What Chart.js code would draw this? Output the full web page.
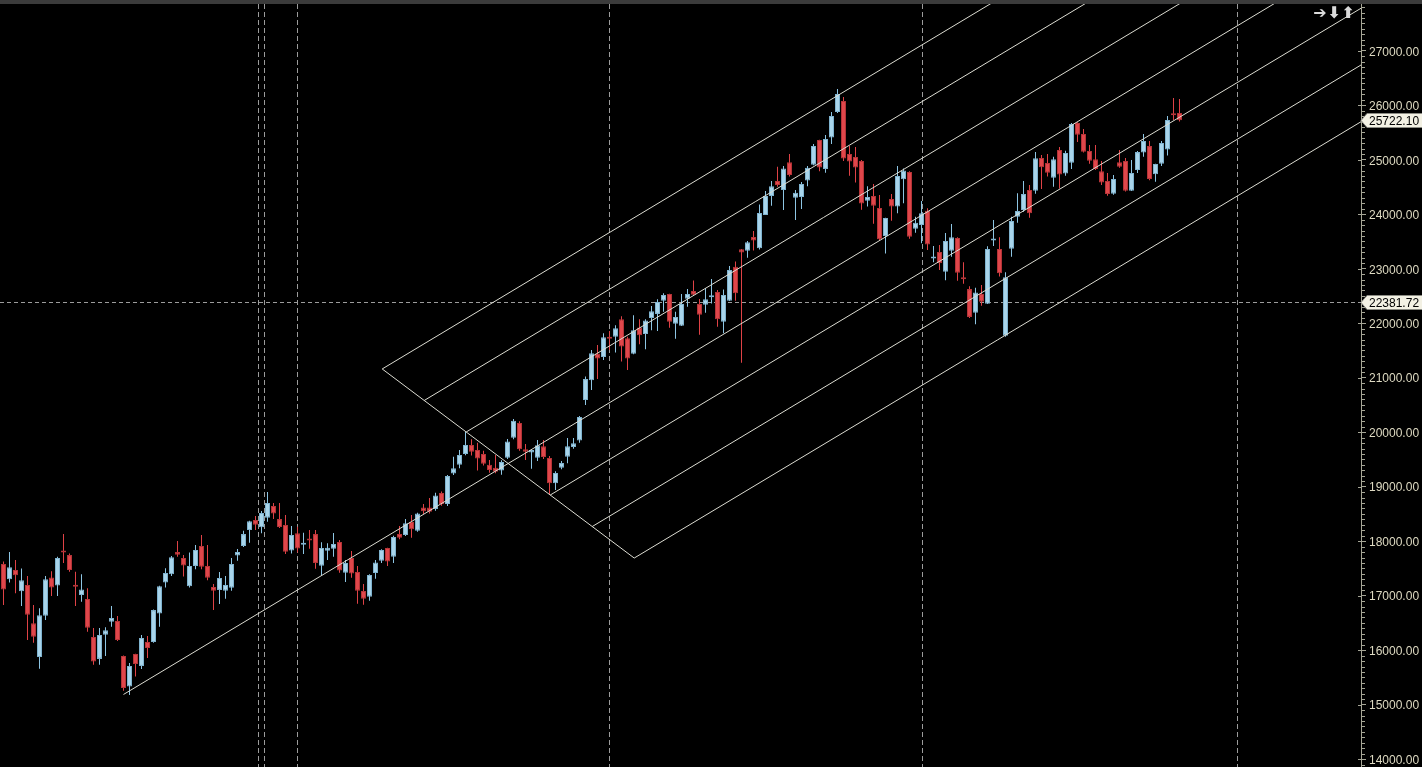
<!DOCTYPE html>
<html>
<head>
<meta charset="utf-8">
<script src="https://cdn.jsdelivr.net/npm/chart.js@4.4.1/dist/chart.umd.min.js"></script>
<style>
  html, body { margin: 0; padding: 0; background: #000; overflow: hidden; }
  #topbar { position: absolute; left: 0; top: 0; width: 1422px; height: 4px; background: #3b3b3b; }
  #wrap { position: absolute; left: 0; top: 4px; width: 1422px; height: 763px; }
</style>
</head>
<body>
<div id="topbar"></div>
<div id="wrap"><canvas id="chart" width="1422" height="763"></canvas></div>
<script>
/* ---------------- data ---------------- */
const opens = [
  17580, 17300, 17470, 17080, 17195, 16495, 15875, 16630, 17335, 17185,
  17820, 17745, 17190, 17010, 16940, 16240, 15840, 16285, 16520, 16535,
  15895, 15335, 15930, 15710, 16150, 16150, 16675, 17240, 17395, 17800,
  17690, 17175, 17545, 17910, 17545, 17160, 17105, 17090, 17145, 17735,
  17910, 18205, 18390, 18255, 18430, 18645, 18405, 18295, 17830, 18145,
  17935, 18040, 18130, 17550, 17825, 17860, 17985, 17420, 17690, 17435,
  17085, 16980, 17415, 17640, 17875, 17715, 18130, 18115, 18350, 18190,
  18620, 18620, 18590, 18885, 18680, 19240, 19400, 19600, 19765, 19675,
  19600, 19400, 19345, 19295, 19530, 19900, 20170, 19685, 19625, 19530,
  19740, 19525, 19065, 19345, 19550, 19730, 19845, 20590, 20955, 21445,
  21380, 21740, 21750, 22070, 21725, 21440, 21920, 21800, 22095, 22170,
  22410, 22535, 21990, 21955, 22450, 22590, 22350, 22340, 22475, 22570,
  22025, 22410, 23035, 23355, 23330, 23580, 23375, 23985, 24335, 24610,
  24445, 24955, 24300, 24315, 24620, 24905, 25360, 24830, 25405, 25875,
  26075, 25105, 25050, 24975, 24245, 24335, 24115, 23600, 24280, 24140,
  24640, 24775, 23735, 23800, 24065, 23185, 23305, 22945, 23330, 23565,
  22835, 22625, 22190, 22535, 22355, 23515, 23360, 21770, 23365, 23955,
  24075, 24445, 24430, 25030, 24940, 24670, 25180, 24745, 24945, 25675,
  25470, 25160, 25010, 24790, 24610, 24375, 24955, 24975, 24430, 24810,
  25130, 25250, 24735, 24925, 25185, 25840, 25855
];
const highs = [
  17625, 17800, 17655, 17500, 17360, 16830, 16770, 17360, 17450, 17715,
  18130, 17775, 17440, 17395, 17135, 16405, 16405, 16420, 16810, 16625,
  15900, 15765, 15935, 16280, 16260, 16745, 17180, 17505, 17730, 18005,
  17745, 17790, 17930, 18115, 17930, 17215, 17435, 17360, 17690, 17855,
  18190, 18375, 18460, 18555, 18900, 18700, 18700, 18480, 18280, 18265,
  18155, 18205, 18205, 17980, 17960, 18150, 18020, 17655, 17820, 17545,
  17215, 17395, 17655, 17850, 17880, 18100, 18280, 18405, 18480, 18520,
  18680, 18790, 18890, 18910, 19215, 19550, 19675, 20005, 19870, 19805,
  19660, 19490, 19580, 19485, 19875, 20240, 20200, 19785, 19685, 19855,
  19855, 19565, 19285, 19470, 19895, 19895, 20295, 21020, 21510, 21600,
  21815, 21855, 21960, 22125, 21750, 22145, 22070, 22070, 22315, 22440,
  22550, 22540, 22210, 22535, 22625, 22785, 22445, 22645, 22810, 22610,
  22620, 23050, 23130, 23360, 23510, 23690, 24180, 24425, 24610, 24870,
  24885, 25105, 24445, 24590, 24885, 25290, 25365, 25455, 25875, 26295,
  26150, 25250, 25235, 24995, 24515, 24555, 24350, 23935, 24370, 24885,
  24840, 24790, 23955, 24240, 24110, 23415, 23435, 23655, 23820, 23575,
  23120, 22680, 22650, 22700, 23410, 23895, 23575, 22935, 23955, 24385,
  24610, 24535, 25140, 25085, 25105, 25055, 25235, 25165, 25675, 25685,
  25565, 25270, 25270, 24975, 24755, 24720, 25180, 25030, 24995, 25160,
  25470, 25345, 24925, 25345, 25800, 26130, 26115
];
const lows = [
  16830, 17240, 17045, 16810, 16185, 16135, 15660, 16555, 16995, 16995,
  17600, 17440, 16810, 16890, 16340, 15730, 15730, 15895, 16430, 16170,
  15255, 15175, 15515, 15655, 15855, 16135, 16430, 17150, 17360, 17715,
  17350, 17150, 17485, 17485, 17285, 16735, 16845, 16945, 17090, 17640,
  17895, 17970, 18205, 18145, 18355, 18405, 18240, 17765, 17775, 17790,
  17765, 17860, 17495, 17365, 17655, 17715, 17420, 17250, 17330, 16850,
  16835, 16905, 17310, 17600, 17545, 17600, 18035, 18095, 18065, 18175,
  18500, 18510, 18560, 18650, 18645, 19215, 19340, 19575, 19570, 19295,
  19390, 19255, 19245, 19220, 19510, 19870, 19660, 19490, 19330, 19470,
  19510, 18855, 18940, 19320, 19430, 19695, 19805, 20500, 20775, 20975,
  21325, 21510, 21460, 21295, 21140, 21430, 21615, 21520, 21870, 21855,
  22210, 21915, 21715, 21950, 22300, 22515, 21790, 22190, 22360, 21935,
  21815, 22405, 22410, 21275, 23200, 23335, 23350, 23985, 24155, 24505,
  24075, 24690, 23895, 24095, 24515, 24900, 24790, 24760, 25290, 25855,
  24975, 24705, 24580, 24080, 24140, 23825, 23515, 23280, 23880, 24015,
  24200, 23550, 23660, 23465, 23345, 23120, 22975, 22790, 23220, 22780,
  22725, 22095, 21980, 22320, 22350, 23415, 22855, 21750, 23220, 23845,
  24045, 23935, 24375, 24460, 24690, 24505, 24470, 24705, 24830, 25325,
  25130, 24925, 24810, 24535, 24340, 24355, 24850, 24415, 24425, 24755,
  25055, 24625, 24595, 24885, 25075, 25730, 25700
];
const closes = [
  17115, 17520, 17375, 17285, 16650, 16245, 16640, 17300, 17150, 17690,
  17790, 17470, 17165, 17115, 16410, 15790, 16280, 16365, 16590, 16185,
  15305, 15710, 15745, 16225, 16040, 16735, 17175, 17415, 17705, 17750,
  17555, 17545, 17840, 17530, 17330, 17090, 17325, 17195, 17580, 17800,
  18130, 18365, 18300, 18515, 18700, 18510, 18260, 17805, 18115, 17865,
  17965, 18010, 17600, 17875, 17880, 17950, 17460, 17600, 17405, 17090,
  16945, 17380, 17610, 17840, 17625, 18075, 18065, 18330, 18220, 18510,
  18550, 18540, 18840, 18680, 19195, 19340, 19580, 19765, 19640, 19515,
  19420, 19305, 19275, 19455, 19830, 20210, 19685, 19640, 19675, 19760,
  19545, 19065, 19250, 19435, 19740, 19795, 20280, 20975, 21450, 21350,
  21740, 21715, 21905, 21570, 21350, 21870, 21780, 22050, 22220, 22390,
  22515, 22025, 22115, 22350, 22535, 22520, 22155, 22440, 22500, 22070,
  22515, 22975, 22550, 23295, 23485, 23515, 24020, 24335, 24515, 24535,
  24840, 24720, 24395, 24555, 24850, 25250, 24855, 25380, 25800, 26205,
  25020, 24965, 24855, 24195, 24315, 24155, 23540, 23930, 24140, 24700,
  24800, 23585, 23845, 24015, 23445, 23220, 23100, 23510, 23575, 22925,
  22805, 22115, 22565, 22395, 23360, 23545, 22915, 22845, 23875, 24060,
  24370, 24015, 25025, 24860, 24760, 25010, 24730, 25125, 25655, 25460,
  25145, 24980, 24830, 24580, 24370, 24645, 24870, 24430, 24755, 25140,
  25345, 24645, 24920, 25305, 25730, 25815, 25722.10
];
const barIndex = opens.map((_, i) => i);

const priceTicks = [14000, 15000, 16000, 17000, 18000, 19000, 20000,
                    21000, 22000, 23000, 24000, 25000, 26000, 27000];
const separators = [42.5, 43.5, 49, 100.9, 153.1, 205.6];   // period breaks (bar index)
const markPrice = 22381.72;
const lastPrice = 25722.10;
const forkHandle = [[63.12, 21160], [105.12, 17690]];     // [bar, price] ends of the cross line
const forkSlope = 66.1;                                    // price per bar
const forkStart = 20;                                      // bar where the centre line starts
const forkCount = 7;

/* ---------------- view ---------------- */
const X_MIN = -0.583, X_MAX = 226.25;
const Y_MIN = 13856, Y_MAX = 27857;

const UP = "#a9d5eb", UP_EDGE = "#7fb3cf";
const DN = "#e0474b", DN_EDGE = "#b53438";
const AXIS = "#a6a696";
const LABEL = "#dedac2";

Chart.defaults.font.family = '"Liberation Sans", Arial, sans-serif';

const isUp = i => closes[i] >= opens[i];

const overlay = {
  id: "overlay",
  beforeDatasetsDraw(chart) {
    const { ctx, chartArea: a, scales: { x, y } } = chart;
    ctx.save();
    ctx.strokeStyle = "#9c9c9c";
    ctx.lineWidth = 1;
    ctx.setLineDash([5, 3]);
    separators.forEach(v => {
      const px = Math.round(x.getPixelForValue(v)) + 0.5;
      ctx.beginPath();
      ctx.moveTo(px, a.top);
      ctx.lineTo(px, a.bottom);
      ctx.stroke();
    });
    ctx.setLineDash([4, 3]);
    const py = Math.round(y.getPixelForValue(markPrice)) + 0.5;
    ctx.beginPath();
    ctx.moveTo(a.left, py);
    ctx.lineTo(a.right, py);
    ctx.stroke();
    ctx.restore();
  },
  afterDatasetsDraw(chart) {
    const { ctx, chartArea: a, scales: { x, y } } = chart;
    ctx.save();
    ctx.beginPath();
    ctx.rect(a.left, a.top, a.right - a.left, a.bottom - a.top);
    ctx.clip();
    ctx.strokeStyle = "#dcdcd2";
    ctx.lineWidth = 1;
    const seg = (ax, ay, bx, by) => {
      ctx.beginPath();
      ctx.moveTo(x.getPixelForValue(ax), y.getPixelForValue(ay));
      ctx.lineTo(x.getPixelForValue(bx), y.getPixelForValue(by));
      ctx.stroke();
    };
    const [[x0, y0], [x1, y1]] = forkHandle;
    seg(x0, y0, x1, y1);
    const mid = Math.floor(forkCount / 2);
    for (let k = 0; k < forkCount; k++) {
      const t = k / (forkCount - 1);
      const sx = x0 + t * (x1 - x0);
      const sy = y0 + t * (y1 - y0);
      const fx = k === mid ? forkStart : sx;
      seg(fx, sy + (fx - sx) * forkSlope, X_MAX, sy + (X_MAX - sx) * forkSlope);
    }
    ctx.restore();
  },
  afterDraw(chart) {
    const { ctx, chartArea: a, scales: { y } } = chart;
    ctx.save();
    // minor ticks every 100
    ctx.strokeStyle = AXIS;
    ctx.lineWidth = 1;
    for (let v = Math.ceil(Y_MIN / 100) * 100; v <= Y_MAX; v += 100) {
      const py = Math.round(y.getPixelForValue(v)) + 0.5;
      const major = v % 1000 === 0;
      ctx.beginPath();
      ctx.moveTo(a.right - (major ? 3 : 0), py);
      ctx.lineTo(a.right + (major ? 0 : 4), py);
      ctx.stroke();
    }
    // price tags
    const tag = price => {
      const py = Math.round(y.getPixelForValue(price)) + 0.5;
      const l = a.right, r = chart.width + 2;
      ctx.beginPath();
      ctx.moveTo(l, py);
      ctx.lineTo(l + 6, py - 7);
      ctx.lineTo(r, py - 7);
      ctx.lineTo(r, py + 7);
      ctx.lineTo(l + 6, py + 7);
      ctx.closePath();
      ctx.fillStyle = "#f3f1e4";
      ctx.fill();
      ctx.strokeStyle = "#8c8c84";
      ctx.stroke();
      ctx.fillStyle = "#000";
      ctx.font = '12px "Liberation Sans", Arial';
      ctx.textBaseline = "middle";
      ctx.textAlign = "left";
      ctx.fillText(price.toFixed(2), l + 8, py + 1);
    };
    tag(markPrice);
    tag(lastPrice);
    // toolbar arrows
    ctx.fillStyle = "#dadada";
    ctx.font = 'bold 16px "DejaVu Sans"';
    ctx.textBaseline = "middle";
    ctx.textAlign = "center";
    ctx.fillText("\u2794", a.right - 41, 10);
    ctx.fillText("\u2B07", a.right - 27, 10);
    ctx.fillText("\u2B06", a.right - 13, 10);
    ctx.restore();
  }
};

new Chart(document.getElementById("chart"), {
  type: "bar",
  data: {
    datasets: [
      {
        label: "body",
        data: barIndex.map(i => ({ x: i, y: [opens[i], closes[i]] })),
        backgroundColor: c => (isUp(c.dataIndex) ? UP : DN),
        borderColor: c => (isUp(c.dataIndex) ? UP_EDGE : DN_EDGE),
        borderWidth: 1,
        borderSkipped: false,
        barThickness: 5,
        minBarLength: 2,
        inflateAmount: 0,
        grouped: false
      },
      {
        label: "wick",
        data: barIndex.map(i => ({ x: i, y: [lows[i], highs[i]] })),
        backgroundColor: c => (isUp(c.dataIndex) ? "#8ec6e4" : "#e04347"),
        borderWidth: 0,
        barThickness: 1,
        inflateAmount: 0,
        grouped: false
      }
    ]
  },
  options: {
    responsive: false,
    animation: false,
    events: [],
    layout: { padding: 0 },
    plugins: {
      legend: { display: false },
      tooltip: { enabled: false }
    },
    scales: {
      x: {
        type: "linear",
        display: false,
        offset: false,
        min: X_MIN,
        max: X_MAX,
        grid: { offset: false }
      },
      y: {
        type: "linear",
        position: "right",
        min: Y_MIN,
        max: Y_MAX,
        beginAtZero: false,
        afterBuildTicks: s => { s.ticks = priceTicks.map(v => ({ value: v })); },
        afterFit: s => {
          s.width = 61;
          s.paddingTop = 0;
          s.paddingBottom = 0;
        },
        ticks: {
          color: LABEL,
          padding: 3,
          labelOffset: 1.5,
          font: { size: 12 },
          callback: v => v.toFixed(2)
        },
        grid: {
          drawOnChartArea: false,
          tickLength: 5,
          tickColor: AXIS
        },
        border: { color: AXIS }
      }
    }
  },
  plugins: [overlay]
});
</script>
</body>
</html>
